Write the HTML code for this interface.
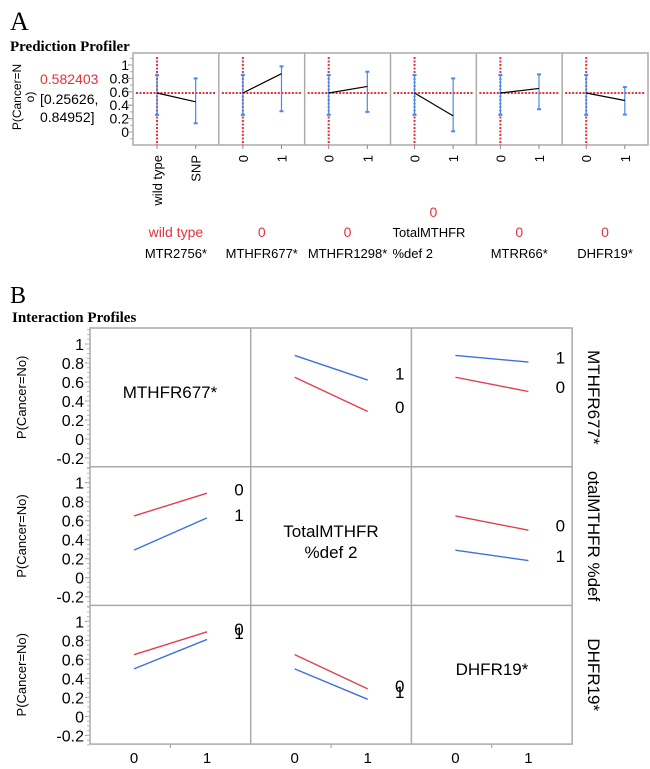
<!DOCTYPE html>
<html><head><meta charset="utf-8"><style>
body{margin:0;background:#fff;}
svg{display:block;font-family:"Liberation Sans",sans-serif;}
</style></head><body>
<svg id="c" width="650" height="769"></svg>
<script>
// ---- Prediction profiler data ----
const profFactors = ["MTR2756*","MTHFR677*","MTHFR1298*","TotalMTHFR %def 2","MTRR66*","DHFR19*"];
const profLevels = [["wild type","SNP"],["0","1"],["0","1"],["0","1"],["0","1"],["0","1"]];
const profCurrent = ["wild type","0","0","0","0","0"];
const profY0 = [0.582,0.582,0.582,0.582,0.582,0.582];
const profY1 = [0.45,0.87,0.68,0.24,0.65,0.47];
const profLo0 = [0.256,0.256,0.256,0.256,0.256,0.256];
const profHi0 = [0.85,0.85,0.85,0.85,0.85,0.85];
const profLo1 = [0.13,0.31,0.30,0.01,0.34,0.26];
const profHi1 = [0.80,0.98,0.90,0.80,0.86,0.67];
const profTicks = [0,0.2,0.4,0.6,0.8,1];
const predValue = "0.582403";
// ---- Interaction profiles data ----
const intVars = ["MTHFR677*","TotalMTHFR %def 2","DHFR19*"];
const intRightLabels = ["MTHFR677*","otalMTHFR %def","DHFR19*"];
const intTicks = [-0.2,0,0.2,0.4,0.6,0.8,1];
// cells: [row,col, red0, red1, blue0, blue1, redLabel, blueLabel, redLabelY, blueLabelY]
const cellRow = [0,0,1,1,2,2];
const cellCol = [1,2,0,2,0,1];
const red0 = [0.65,0.65,0.65,0.65,0.65,0.65];
const red1 = [0.29,0.50,0.89,0.50,0.89,0.29];
const blue0 = [0.88,0.88,0.29,0.29,0.50,0.50];
const blue1 = [0.62,0.81,0.63,0.18,0.81,0.18];
const redLab = ["0","0","0","0","0","0"];
const blueLab = ["1","1","1","1","1","1"];
const redLabY = [0.35,0.56,0.94,0.56,0.93,0.33];
const blueLabY = [0.70,0.87,0.67,0.24,0.89,0.27];

const svg=document.getElementById('c');
const NS="http://www.w3.org/2000/svg";
function mk(tag,attrs,parent,text){const e=document.createElementNS(NS,tag);for(const k in attrs)e.setAttribute(k,attrs[k]);if(text!==undefined)e.textContent=text;(parent||svg).appendChild(e);return e;}

// Section A
let t=mk('text',{x:10,y:30,'font-family':'Liberation Serif,serif','font-size':26});t.textContent='A';

t=mk('text',{x:10,y:51,'font-family':'Liberation Serif,serif','font-size':15,'font-weight':'bold'},svg,'Prediction Profiler');

const pL=133,pR=648,pT=53,pB=145;
const pW=(pR-pL)/profFactors.length;
function py(v){return 132-v*67;}
let g=mk('g',{});
mk('text',{transform:'translate(21,97) rotate(-90)','text-anchor':'middle','font-size':12},g,'P(Cancer=N');
mk('text',{transform:'translate(34,97) rotate(-90)','text-anchor':'middle','font-size':12},g,'o)');
t=mk('text',{x:40,y:84,fill:'#e8303a','font-size':14},svg,predValue);
t=mk('text',{x:40,y:104,'font-size':14},svg,'[0.25626,');
t=mk('text',{x:40,y:122,'font-size':14},svg,'0.84952]');
g=mk('g',{});
profTicks.forEach(v=>{mk('text',{x:129,y:py(v)+5,'text-anchor':'end','font-size':14},g,String(v));mk('line',{x1:128,x2:133,y1:py(v),y2:py(v),stroke:'#888'},g);});
for(let v=-0.1;v<=1.11;v+=0.1)mk('line',{x1:130,x2:133,y1:py(v),y2:py(v),stroke:'#aaa'},g);
mk('rect',{x:pL,y:pT,width:pR-pL,height:pB-pT,fill:'none',stroke:'#aaa','stroke-width':1.5});
profFactors.forEach((f,i)=>{
  const x0=pL+i*pW;
  const g=mk('g',{});
  if(i>0)mk('line',{x1:x0,x2:x0,y1:pT,y2:pB,stroke:'#aaa','stroke-width':1.5},g);
  const xa=x0+pW*0.28,xb=x0+pW*0.73;
  mk('line',{x1:x0+3,x2:x0+pW-3,y1:py(profY0[i]),y2:py(profY0[i]),stroke:'#e8303a','stroke-width':2,'stroke-dasharray':'2,1.5'},g);
  mk('line',{x1:xa,x2:xa,y1:pT+4,y2:pB,stroke:'#e8303a','stroke-width':2,'stroke-dasharray':'2,1.5'},g);
  [[xa,profLo0[i],profHi0[i]],[xb,profLo1[i],profHi1[i]]].forEach(([x,lo,hi])=>{
    mk('line',{x1:x,x2:x,y1:py(lo),y2:py(hi),stroke:'#4a8ae8','stroke-width':1.2},g);
    mk('line',{x1:x-2,x2:x+2,y1:py(lo),y2:py(lo),stroke:'#4a8ae8','stroke-width':2},g);
    mk('line',{x1:x-2,x2:x+2,y1:py(hi),y2:py(hi),stroke:'#4a8ae8','stroke-width':2},g);
  });
  mk('line',{x1:xa,x2:xb,y1:py(profY0[i]),y2:py(profY1[i]),stroke:'#000','stroke-width':1.2},g);
  [xa,xb].forEach((x,k)=>mk('text',{transform:`translate(${x+5},155) rotate(-90)`,'text-anchor':'end','font-size':13},g,profLevels[i][k]));
  mk('line',{x1:xa,x2:xa,y1:pB,y2:pB+4,stroke:'#888'},g);mk('line',{x1:xb,x2:xb,y1:pB,y2:pB+4,stroke:'#888'},g);
  const cx=x0+pW/2;
  const lab=mk('g',{});
  if(f.indexOf(' %')>0){
    mk('text',{x:cx,y:217,'text-anchor':'middle',fill:'#e8303a','font-size':14},lab,profCurrent[i]);
    mk('text',{x:x0+2,y:237,'font-size':13},lab,'TotalMTHFR');
    mk('text',{x:x0+2,y:258,'font-size':13},lab,'%def 2');
  }else{
    mk('text',{x:cx,y:237,'text-anchor':'middle',fill:'#e8303a','font-size':14},lab,profCurrent[i]);
    mk('text',{x:cx,y:258,'text-anchor':'middle','font-size':13},lab,f);
  }
});

// Section B
t=mk('text',{x:10,y:303,'font-family':'Liberation Serif,serif','font-size':24},svg,'B');
t=mk('text',{x:12,y:322,'font-family':'Liberation Serif,serif','font-size':15,'font-weight':'bold'},svg,'Interaction Profiles');

const gL=90,gT=328,cW=160.7,rH=138.7;
function ix(c,v){return gL+c*cW+44+v*73;}
function iy(r,v){return gT+r*rH+16+(1-v)*95;}
for(let r=0;r<3;r++){
  const ag=mk('g',{});
  intTicks.forEach(v=>{mk('text',{x:84,y:iy(r,v)+6,'text-anchor':'end','font-size':16},ag,String(v));mk('line',{x1:85,x2:90,y1:iy(r,v),y2:iy(r,v),stroke:'#999'},ag);});
  for(let v=-0.3;v<=1.16;v+=0.05)mk('line',{x1:87,x2:90,y1:iy(r,v),y2:iy(r,v),stroke:'#bbb'},ag);
  mk('text',{transform:`translate(26,${gT+r*rH+rH/2}) rotate(-90)`,'text-anchor':'middle','font-size':13},ag,'P(Cancer=No)');
  const rl=mk('text',{transform:`translate(588,${gT+r*rH+rH/2}) rotate(90)`,'text-anchor':'middle','font-size':17},svg,intRightLabels[r]);
  
}
for(let c=0;c<3;c++){
  const xg=mk('g',{});
  mk('text',{x:ix(c,0),y:763,'text-anchor':'middle','font-size':15},xg,'0');
  mk('text',{x:ix(c,1),y:763,'text-anchor':'middle','font-size':15},xg,'1');
  mk('line',{x1:gL+c*cW+cW/2,x2:gL+c*cW+cW/2,y1:744,y2:748,stroke:'#999'},xg);
}
mk('rect',{x:gL,y:gT,width:cW*3,height:rH*3,fill:'none',stroke:'#aaa','stroke-width':1.5});
for(let k=1;k<3;k++){mk('line',{x1:gL+k*cW,x2:gL+k*cW,y1:gT,y2:gT+3*rH,stroke:'#aaa','stroke-width':1.5});mk('line',{x1:gL,x2:gL+3*cW,y1:gT+k*rH,y2:gT+k*rH,stroke:'#aaa','stroke-width':1.5});}
// diagonal labels
t=mk('text',{x:170,y:398,'text-anchor':'middle','font-size':17},svg,'MTHFR677*');
g=mk('g',{});
mk('text',{x:331,y:537,'text-anchor':'middle','font-size':17},g,'TotalMTHFR');mk('text',{x:331,y:558,'text-anchor':'middle','font-size':17},g,'%def 2');
t=mk('text',{x:492,y:675,'text-anchor':'middle','font-size':17},svg,'DHFR19*');
cellRow.forEach((r,i)=>{
  const c=cellCol[i];
  const cg=mk('g',{});
  const rl=mk('line',{x1:ix(c,0),x2:ix(c,1),y1:iy(r,red0[i]),y2:iy(r,red1[i]),stroke:'#e0404e','stroke-width':1.4},cg);
  
  const bl=mk('line',{x1:ix(c,0),x2:ix(c,1),y1:iy(r,blue0[i]),y2:iy(r,blue1[i]),stroke:'#3f6fe0','stroke-width':1.4},cg);
  
  const lx=ix(c,1)+32;
  mk('text',{x:lx,y:iy(r,redLabY[i])+7,'text-anchor':'middle','font-size':17},cg,redLab[i]);
  mk('text',{x:lx,y:iy(r,blueLabY[i])+7,'text-anchor':'middle','font-size':17},cg,blueLab[i]);
});
</script>
</body></html>
